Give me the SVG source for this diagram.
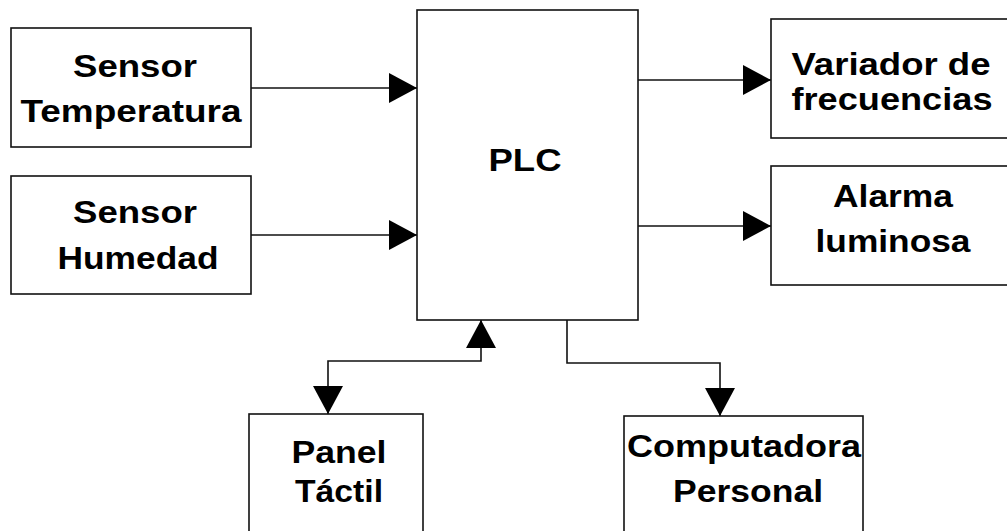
<svg xmlns="http://www.w3.org/2000/svg" width="1007" height="531" viewBox="0 0 1007 531">
<style>
.box{fill:#fff;stroke:#111;stroke-width:1.6}
.t{font-family:"Liberation Sans",Arial,sans-serif;font-weight:bold;font-size:31px;fill:#000}
.c{fill:none;stroke:#111;stroke-width:1.6}
</style>
<defs>
<marker id="ah" markerUnits="userSpaceOnUse" markerWidth="30" markerHeight="32" refX="28" refY="15" orient="auto-start-reverse" viewBox="0 0 30 32">
<path d="M0,0 L28,15 L0,30 Z" fill="#000"/>
</marker>
</defs>
<rect width="1007" height="531" fill="#fff"/>
<g id="connectors">
<path class="c" d="M251,88 H417" marker-end="url(#ah)"/>
<path class="c" d="M251,235 H417" marker-end="url(#ah)"/>
<path class="c" d="M638,80 H771" marker-end="url(#ah)"/>
<path class="c" d="M638,226 H771" marker-end="url(#ah)"/>
<path class="c" d="M328,414 V361 H481 V320" marker-start="url(#ah)" marker-end="url(#ah)"/>
<path class="c" d="M567,320 V363 H720 V416" marker-end="url(#ah)"/>
</g>
<g id="sensor-temperatura">
<rect class="box" x="11" y="28" width="240" height="119"/>
<text class="t" x="135" y="77" text-anchor="middle" textLength="124" lengthAdjust="spacingAndGlyphs">Sensor</text>
<text class="t" x="131" y="122" text-anchor="middle" textLength="221" lengthAdjust="spacingAndGlyphs">Temperatura</text>
</g>
<g id="sensor-humedad">
<rect class="box" x="11" y="176" width="240" height="118"/>
<text class="t" x="135" y="223" text-anchor="middle" textLength="124" lengthAdjust="spacingAndGlyphs">Sensor</text>
<text class="t" x="138" y="269" text-anchor="middle" textLength="161" lengthAdjust="spacingAndGlyphs">Humedad</text>
</g>
<g id="plc">
<rect class="box" x="417" y="10" width="221" height="310"/>
<text class="t" x="525" y="171" text-anchor="middle" textLength="73" lengthAdjust="spacingAndGlyphs">PLC</text>
</g>
<g id="variador">
<rect class="box" x="771" y="19" width="245" height="119"/>
<text class="t" x="891" y="75" text-anchor="middle" textLength="199" lengthAdjust="spacingAndGlyphs">Variador de</text>
<text class="t" x="892" y="110" text-anchor="middle" textLength="201" lengthAdjust="spacingAndGlyphs">frecuencias</text>
</g>
<g id="alarma">
<rect class="box" x="771" y="166" width="245" height="119"/>
<text class="t" x="893" y="207" text-anchor="middle" textLength="120" lengthAdjust="spacingAndGlyphs">Alarma</text>
<text class="t" x="893" y="252" text-anchor="middle" textLength="155" lengthAdjust="spacingAndGlyphs">luminosa</text>
</g>
<g id="panel-tactil">
<rect class="box" x="249" y="414" width="174" height="130"/>
<text class="t" x="339" y="463" text-anchor="middle" textLength="95" lengthAdjust="spacingAndGlyphs">Panel</text>
<text class="t" x="339" y="502" text-anchor="middle" textLength="88" lengthAdjust="spacingAndGlyphs">Táctil</text>
</g>
<g id="computadora-personal">
<rect class="box" x="624" y="416" width="239" height="130"/>
<text class="t" x="744" y="457" text-anchor="middle" textLength="234" lengthAdjust="spacingAndGlyphs">Computadora</text>
<text class="t" x="748" y="502" text-anchor="middle" textLength="150" lengthAdjust="spacingAndGlyphs">Personal</text>
</g>
</svg>
